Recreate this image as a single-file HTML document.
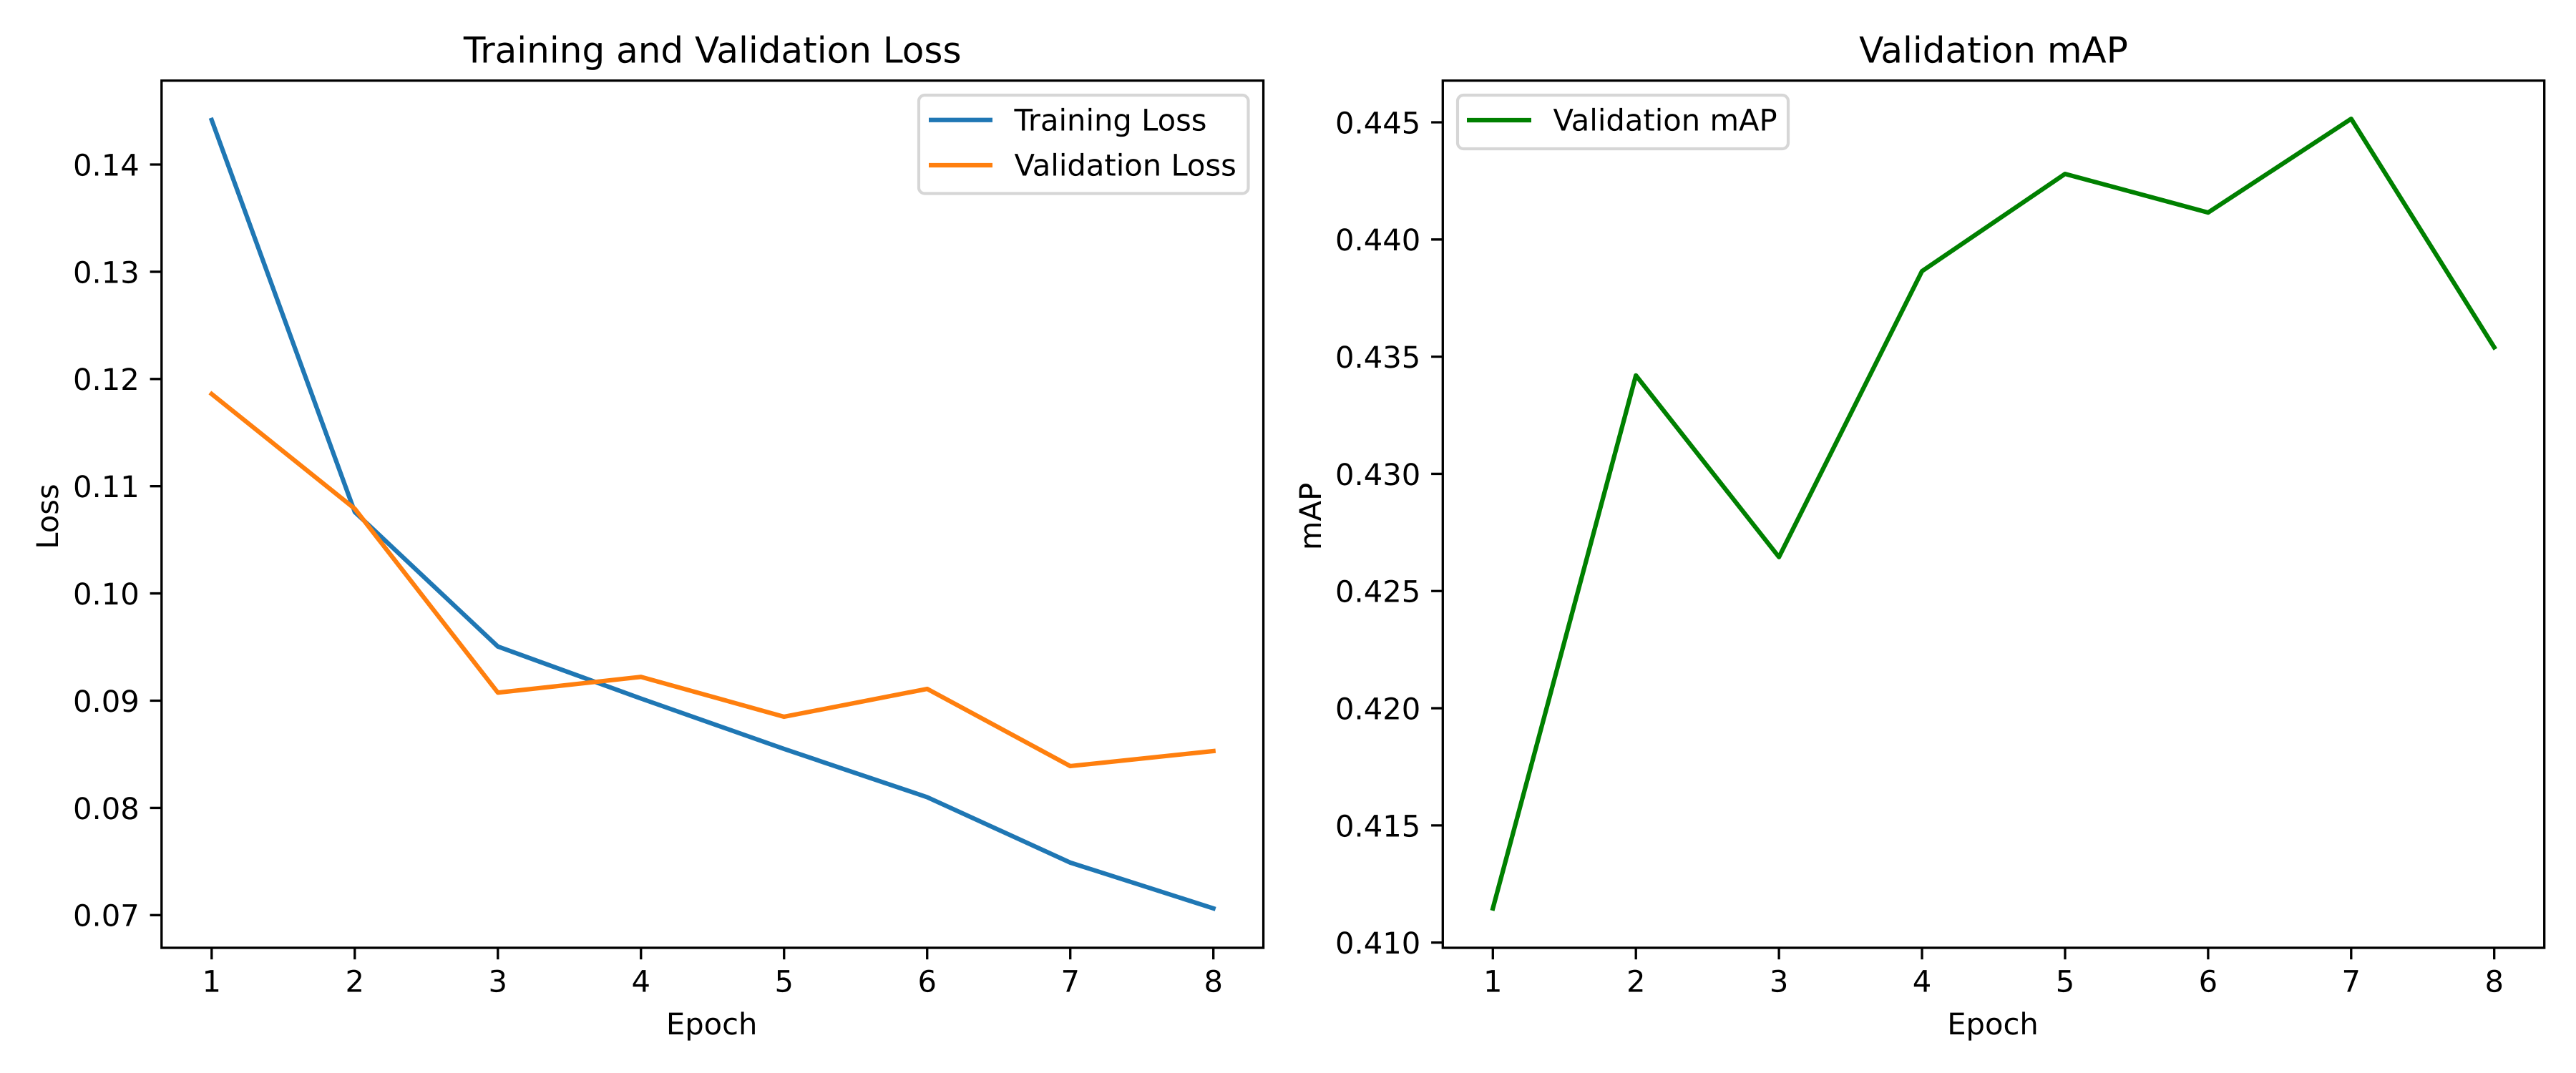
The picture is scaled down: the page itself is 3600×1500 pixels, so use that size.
<!DOCTYPE html>
<html lang="en">
<head>
<meta charset="utf-8">
<title>Training and Validation Curves</title>
<style>
  html, body { margin: 0; padding: 0; background: #fff; width: 3600px; height: 1500px; overflow: hidden; }
  svg { display: block; }
  text { font-family: "DejaVu Sans", "Liberation Sans", sans-serif; fill: #000; text-rendering: geometricPrecision; }
  .tick-label, .axis-title, .legend-label { font-size: 41.67px; }
  .chart-title { font-size: 50px; }
</style>
</head>
<body>
<svg id="figure" xmlns="http://www.w3.org/2000/svg" width="3600" height="1500" viewBox="0 0 3600 1500">
  <rect x="0" y="0" width="3600" height="1500" fill="#ffffff"/>

  <g id="loss-panel">
    <text class="chart-title" x="995.7" y="87.5" text-anchor="middle">Training and Validation Loss</text>
    <text class="axis-title" x="994.7" y="1446" text-anchor="middle">Epoch</text>
    <text class="axis-title" x="81" y="722" text-anchor="middle" transform="rotate(-90 81 722)">Loss</text>
    <g id="loss-ticks"></g>
    <g id="loss-lines"></g>
    <rect x="225.8" y="112.7" width="1539.8" height="1212.3" fill="none" stroke="#000" stroke-width="3.33"/>
    <g>
      <rect x="1284" y="133" width="460.5" height="137.5" rx="8.3" ry="8.3" fill="#fff" fill-opacity="0.8" stroke="#cccccc" stroke-opacity="0.8" stroke-width="4.17"/>
      <line x1="1298" y1="167.7" x2="1387" y2="167.7" stroke="#1f77b4" stroke-width="6.25"/>
      <text class="legend-label" x="1417.5" y="182.7">Training Loss</text>
      <line x1="1298" y1="231" x2="1387" y2="231" stroke="#ff7f0e" stroke-width="6.25"/>
      <text class="legend-label" x="1417.5" y="245.7">Validation Loss</text>
    </g>
  </g>

  <g id="map-panel">
    <text class="chart-title" x="2786" y="87.5" text-anchor="middle">Validation mAP</text>
    <text class="axis-title" x="2785" y="1446" text-anchor="middle">Epoch</text>
    <text class="axis-title" x="1846" y="722" text-anchor="middle" transform="rotate(-90 1846 722)">mAP</text>
    <g id="map-ticks"></g>
    <g id="map-lines"></g>
    <rect x="2016.3" y="112.7" width="1539.4" height="1212.3" fill="none" stroke="#000" stroke-width="3.33"/>
    <g>
      <rect x="2037" y="133" width="462" height="75" rx="8.3" ry="8.3" fill="#fff" fill-opacity="0.8" stroke="#cccccc" stroke-opacity="0.8" stroke-width="4.17"/>
      <line x1="2050" y1="168" x2="2140" y2="168" stroke="#008000" stroke-width="6.25"/>
      <text class="legend-label" x="2170.5" y="182.5">Validation mAP</text>
    </g>
  </g>
</svg>

<script>
const epochs = [1, 2, 3, 4, 5, 6, 7, 8];
const trainingLoss = [0.14415, 0.1076, 0.09505, 0.0902, 0.0855, 0.0810, 0.0749, 0.07063];
const validationLoss = [0.1186, 0.1079, 0.09075, 0.09222, 0.0885, 0.0911, 0.0839, 0.0853];
const validationMap = [0.41146, 0.4342, 0.42645, 0.43865, 0.4428, 0.44115, 0.44515, 0.4354];
const lossTickValues = [0.07, 0.08, 0.09, 0.10, 0.11, 0.12, 0.13, 0.14];
const lossTickLabels = ['0.07', '0.08', '0.09', '0.10', '0.11', '0.12', '0.13', '0.14'];
const mapTickValues = [0.410, 0.415, 0.420, 0.425, 0.430, 0.435, 0.440, 0.445];
const mapTickLabels = ['0.410', '0.415', '0.420', '0.425', '0.430', '0.435', '0.440', '0.445'];

const SVG_NS = 'http://www.w3.org/2000/svg';

function linearScale(domainA, domainB, rangeA, rangeB) {
  return function (v) {
    return rangeA + (v - domainA) * (rangeB - rangeA) / (domainB - domainA);
  };
}

// x axis: 1..8 maps inside the frame with matplotlib's 5% margin
const lossX = linearScale(1, 8, 295.8, 1695.7);
const mapX = linearScale(1, 8, 2086.3, 3485.7);
// y axes: calibrated from the reference tick positions
const lossY = linearScale(0.07, 0.14, 1279.3, 230);
const mapY = linearScale(0.41, 0.445, 1317.7, 171);

function drawTicks(groupId, prefix, xScale, yScale, yValues, yLabels, frameLeft, frameBottom) {
  const group = document.getElementById(groupId);
  epochs.forEach(function (epoch) {
    const x = xScale(epoch);
    const tick = document.createElementNS(SVG_NS, 'line');
    tick.setAttribute('x1', x);
    tick.setAttribute('x2', x);
    tick.setAttribute('y1', frameBottom);
    tick.setAttribute('y2', frameBottom + 16.2);
    tick.setAttribute('stroke', '#000');
    tick.setAttribute('stroke-width', '3.33');
    
    
    group.appendChild(tick);
    const label = document.createElementNS(SVG_NS, 'text');
    label.setAttribute('class', 'tick-label');
    label.setAttribute('x', x);
    label.setAttribute('y', frameBottom + 61.7);
    label.setAttribute('text-anchor', 'middle');
    
    
    label.textContent = String(epoch);
    group.appendChild(label);
  });
  yValues.forEach(function (value, i) {
    const y = yScale(value);
    const tick = document.createElementNS(SVG_NS, 'line');
    tick.setAttribute('x1', frameLeft - 16.2);
    tick.setAttribute('x2', frameLeft);
    tick.setAttribute('y1', y);
    tick.setAttribute('y2', y);
    tick.setAttribute('stroke', '#000');
    tick.setAttribute('stroke-width', '3.33');
    
    
    group.appendChild(tick);
    const label = document.createElementNS(SVG_NS, 'text');
    label.setAttribute('class', 'tick-label');
    label.setAttribute('x', frameLeft - 31);
    label.setAttribute('y', y + 15.4);
    label.setAttribute('text-anchor', 'end');
    
    
    label.textContent = yLabels[i];
    group.appendChild(label);
  });
}

function drawLine(groupId, name, values, color, xScale, yScale) {
  const points = values.map(function (v, i) {
    return xScale(epochs[i]).toFixed(2) + ',' + yScale(v).toFixed(2);
  }).join(' ');
  const line = document.createElementNS(SVG_NS, 'polyline');
  line.setAttribute('points', points);
  line.setAttribute('fill', 'none');
  line.setAttribute('stroke', color);
  line.setAttribute('stroke-width', '6.25');
  line.setAttribute('stroke-linecap', 'square');
  line.setAttribute('stroke-linejoin', 'round');
  
  
  document.getElementById(groupId).appendChild(line);
}

drawTicks('loss-ticks', 'loss', lossX, lossY, lossTickValues, lossTickLabels, 225.8, 1325);
drawTicks('map-ticks', 'map', mapX, mapY, mapTickValues, mapTickLabels, 2016.3, 1325);
drawLine('loss-lines', 'training-loss-line', trainingLoss, '#1f77b4', lossX, lossY);
drawLine('loss-lines', 'validation-loss-line', validationLoss, '#ff7f0e', lossX, lossY);
drawLine('map-lines', 'validation-map-line', validationMap, '#008000', mapX, mapY);
</script>
</body>
</html>
